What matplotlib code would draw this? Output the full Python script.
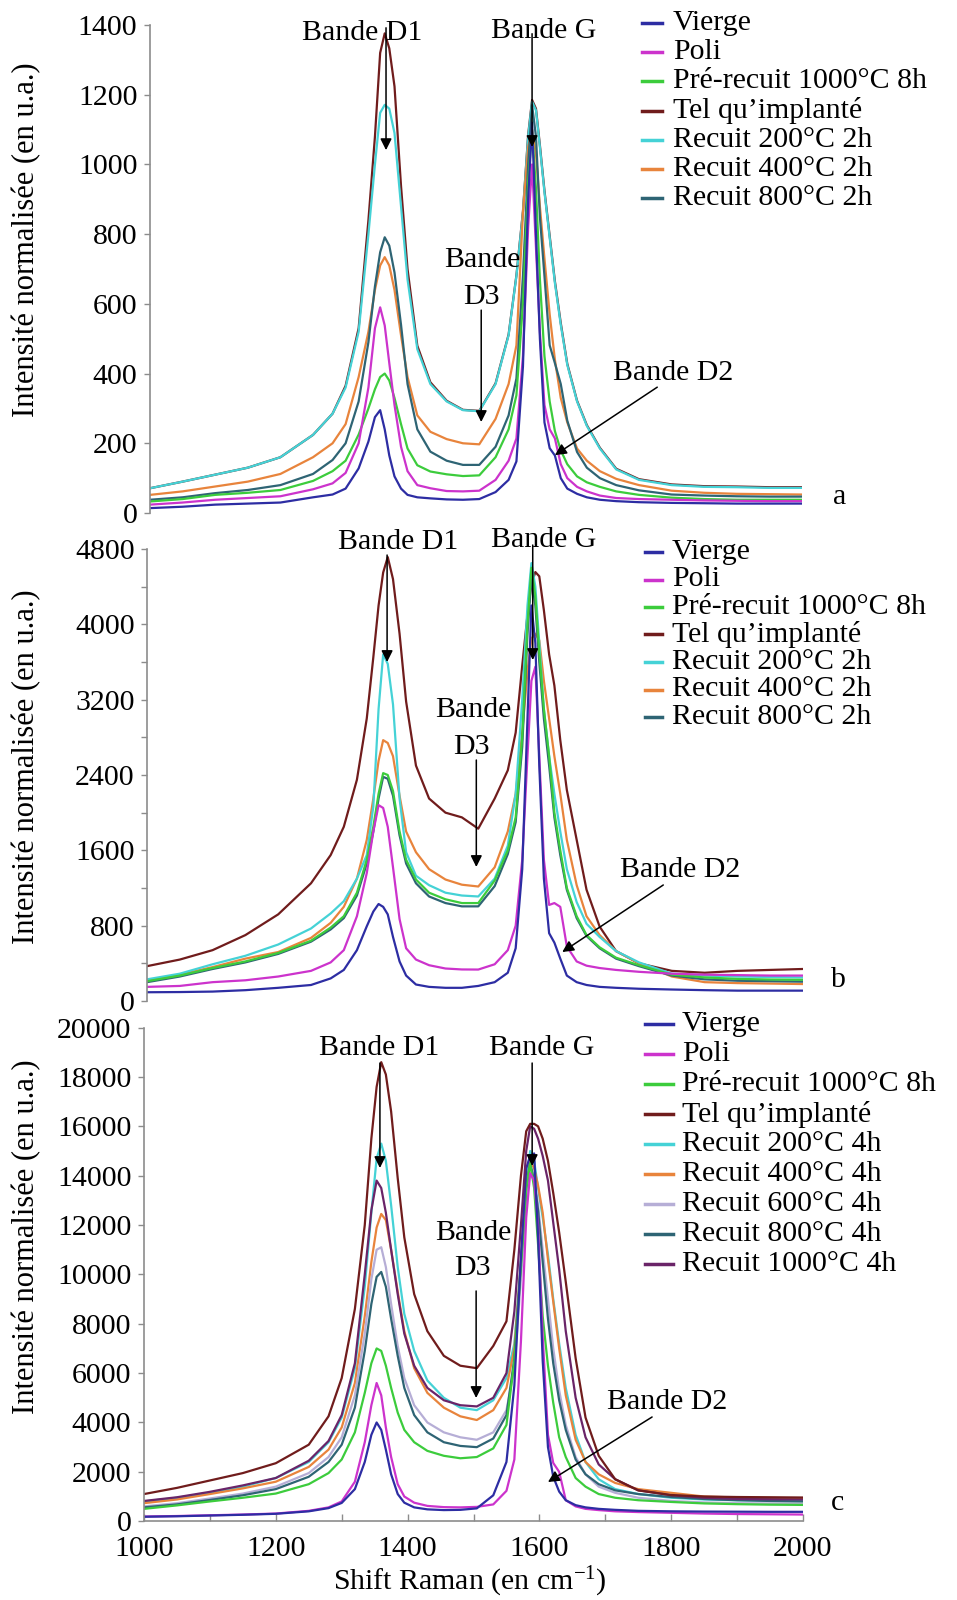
import matplotlib
matplotlib.use('Agg')
import matplotlib.pyplot as plt
from matplotlib.lines import Line2D

plt.rcParams['font.family'] = ['Liberation Serif', 'DejaVu Serif']
plt.rcParams['mathtext.fontset'] = 'custom'
plt.rcParams['mathtext.rm'] = 'Liberation Serif'
plt.rcParams['mathtext.it'] = 'Liberation Serif:italic'

W, H = 957, 1600

# Raman shift grid (cm-1)
shift = [1000, 1050, 1100, 1150, 1200, 1250, 1280, 1300, 1320, 1335,
         1345, 1353, 1360, 1367, 1375, 1385, 1395, 1410, 1430, 1455,
         1480, 1505, 1530, 1550, 1562, 1572, 1580, 1586, 1592, 1598,
         1605, 1613, 1621, 1630, 1640, 1655, 1670, 1690, 1715, 1750,
         1800, 1850, 1900, 1950, 2000]

# ---------------- panel a ----------------
a_vierge = [14, 18, 24, 27, 30, 45, 53, 70, 128, 205, 275, 295, 240, 165, 105,
            70, 52, 45, 42, 39, 38, 40, 60, 95, 148, 420, 900, 1120, 800, 500,
            260, 186, 165, 100, 70, 55, 45, 38, 34, 31, 29, 28, 27, 27, 27]
a_poli = [24, 30, 38, 43, 48, 68, 85, 115, 200, 360, 530, 590, 538, 430, 310,
          190, 120, 80, 71, 63, 62, 64, 95, 150, 214, 450, 820, 1000, 760, 520,
          310, 240, 214, 140, 100, 75, 62, 50, 43, 40, 38, 36, 35, 34, 34]
a_prerecuit = [33, 40, 52, 58, 66, 92, 120, 150, 225, 300, 355, 390, 400, 380, 330,
               255, 185, 137, 119, 111, 106, 108, 160, 240, 338, 600, 950, 1100, 930, 671,
               450, 320, 235, 180, 140, 105, 88, 75, 62, 52, 44, 40, 38, 38, 38]
a_tel = [71, 90, 110, 130, 160, 224, 285, 365, 530, 840, 1080, 1320, 1376, 1333, 1224,
         938, 700, 480, 375, 322, 296, 293, 372, 512, 682, 865, 1085, 1185, 1160, 1055,
         925, 795, 665, 545, 428, 322, 252, 187, 127, 97, 82, 77, 76, 74, 74]
a_r200 = [71, 90, 110, 130, 160, 224, 285, 360, 520, 800, 1000, 1148, 1171, 1160, 1090,
          880, 670, 470, 370, 320, 295, 292, 370, 510, 680, 862, 1080, 1180, 1155, 1050,
          920, 790, 660, 540, 425, 320, 250, 185, 125, 95, 80, 75, 74, 72, 72]
a_r400 = [52, 62, 76, 90, 112, 160, 200, 255, 390, 520, 640, 710, 734, 710, 640,
          510, 390, 280, 233, 212, 200, 197, 270, 370, 481, 862, 1050, 1100, 1030, 880,
          730, 570, 440, 330, 260, 185, 150, 120, 98, 80, 64, 58, 55, 54, 53]
a_r800 = [38, 45, 57, 66, 80, 112, 152, 200, 320, 490, 650, 748, 791, 767, 690,
          540, 370, 240, 176, 150, 138, 138, 190, 280, 386, 680, 1000, 1170, 1080, 850,
          680, 481, 430, 370, 265, 175, 130, 100, 80, 65, 53, 50, 48, 47, 47]

# ---------------- panel b ----------------
b_vierge = [93, 95, 100, 115, 140, 170, 240, 330, 540, 793, 950, 1030, 1000, 920, 680,
            420, 270, 175, 150, 140, 140, 160, 200, 300, 560, 1400, 3000, 4200, 3800, 2500,
            1300, 720, 620, 450, 270, 200, 170, 150, 140, 130, 122, 115, 110, 110, 110]
b_poli = [150, 160, 200, 220, 260, 320, 410, 540, 900, 1358, 1800, 2080, 2050, 1850, 1420,
          870, 560, 440, 380, 345, 335, 334, 390, 540, 800, 1500, 2600, 3400, 3550, 2600,
          1500, 1020, 1040, 1000, 580, 420, 375, 350, 330, 310, 290, 280, 275, 270, 270]
b_prerecuit = [210, 270, 350, 420, 510, 640, 780, 900, 1150, 1500, 1850, 2200, 2420, 2400, 2230,
               1800, 1500, 1290, 1150, 1080, 1040, 1040, 1280, 1600, 1950, 2800, 4000, 4600, 4300, 3700,
               3100, 2600, 2000, 1600, 1200, 900, 700, 570, 460, 380, 280, 250, 235, 228, 225]
b_tel = [370, 440, 540, 700, 920, 1250, 1550, 1850, 2350, 3000, 3650, 4200, 4550, 4714, 4480,
         3900, 3180, 2500, 2150, 2000, 1950, 1830, 2150, 2450, 2850, 3560, 4100, 4430, 4555, 4510,
         4150, 3680, 3350, 2770, 2241, 1711, 1182, 790, 530, 400, 320, 300, 320, 330, 340]
b_r200 = [230, 290, 390, 480, 600, 770, 930, 1060, 1300, 1550, 2064, 3100, 3680, 3580, 3150,
          2150, 1580, 1330, 1230, 1150, 1120, 1110, 1300, 1650, 2200, 3200, 4200, 4650, 4400, 3800,
          3100, 2600, 2200, 1800, 1400, 1050, 820, 680, 530, 410, 290, 270, 260, 255, 250]
b_r400 = [220, 280, 360, 450, 520, 670, 830, 1000, 1300, 1711, 2150, 2550, 2770, 2740, 2600,
          2180, 1800, 1580, 1400, 1290, 1235, 1216, 1420, 1800, 2200, 2850, 3500, 3850, 3900, 3830,
          3400, 3000, 2600, 2200, 1711, 1230, 900, 700, 530, 400, 260, 200, 190, 185, 180]
b_r800 = [200, 260, 340, 410, 500, 630, 760, 880, 1120, 1460, 1800, 2150, 2380, 2360, 2180,
          1760, 1460, 1250, 1110, 1040, 1005, 1005, 1220, 1560, 1900, 2700, 3900, 4500, 4200, 3600,
          3000, 2500, 1950, 1550, 1180, 880, 690, 560, 450, 370, 270, 230, 215, 210, 205]

# ---------------- panel c ----------------
c_vierge = [180, 200, 230, 260, 300, 400, 530, 740, 1300, 2400, 3500, 4000, 3700, 2900, 1900,
            1100, 750, 560, 480, 450, 460, 520, 1050, 2400, 5500, 10700, 14300, 14800, 14900, 11500,
            6500, 3000, 1800, 1200, 850, 650, 560, 500, 460, 420, 400, 390, 385, 380, 380]
c_poli = [190, 210, 240, 270, 310, 420, 560, 800, 1600, 3200, 4700, 5600, 5100, 3800, 2600,
          1500, 1000, 750, 620, 570, 560, 580, 680, 1230, 2500, 7300, 12300, 14100, 13800, 12000,
          7500, 3500, 2360, 2000, 850, 600, 500, 450, 400, 370, 340, 310, 290, 280, 270]
c_prerecuit = [500, 640, 800, 950, 1120, 1500, 1950, 2500, 3600, 5200, 6400, 7000, 6900, 6300, 5400,
               4400, 3700, 3200, 2850, 2650, 2550, 2600, 2950, 3900, 6500, 10300, 13500, 14500, 13500, 11200,
               8300, 6300, 4800, 3400, 2600, 1750, 1400, 1100, 950, 850, 780, 720, 690, 670, 660]
c_tel = [1100, 1350, 1650, 1950, 2350, 3100, 4250, 5800, 8600, 12000, 15500, 17600, 18600, 18100, 16600,
         13900, 11500, 9200, 7700, 6700, 6300, 6200, 7100, 8100, 11000, 14000, 15800, 16100, 16100, 16000,
         15500, 14600, 13300, 11700, 9700, 6600, 4200, 2650, 1700, 1250, 1060, 1000, 980, 970, 960]
c_r200 = [800, 950, 1150, 1400, 1750, 2400, 3200, 4200, 6200, 9500, 12500, 14700, 15300, 14600, 12800,
          10300, 8400, 6900, 5700, 5000, 4600, 4500, 4900, 5800, 7200, 10500, 13800, 15000, 14600, 13500,
          12300, 10800, 9000, 7200, 5400, 3500, 2400, 1700, 1300, 1100, 950, 880, 850, 840, 830]
c_r400 = [730, 880, 1100, 1330, 1600, 2200, 2900, 3800, 5600, 8300, 10500, 11900, 12450, 12200, 11000,
          9300, 7700, 6200, 5200, 4600, 4250, 4100, 4500, 5400, 7000, 10500, 13500, 14600, 14300, 13600,
          12500, 10600, 8900, 7000, 5100, 3300, 2400, 1900, 1550, 1300, 1150, 1000, 960, 940, 930]
c_r600 = [600, 730, 920, 1120, 1400, 1950, 2600, 3400, 5100, 7600, 9800, 11000, 11100, 10300, 8800,
          7100, 5800, 4700, 4000, 3600, 3400, 3300, 3600, 4500, 6200, 9800, 13000, 14400, 14000, 12800,
          11000, 9000, 7000, 5300, 3900, 2600, 1900, 1400, 1150, 950, 820, 760, 730, 720, 710]
c_r800 = [560, 680, 860, 1050, 1300, 1800, 2400, 3100, 4600, 6900, 8800, 9900, 10100, 9500, 8200,
          6700, 5400, 4300, 3600, 3200, 3050, 3000, 3350, 4300, 6600, 10500, 13500, 14500, 13800, 12600,
          10500, 8200, 6400, 4900, 3700, 2500, 1900, 1500, 1250, 1100, 980, 900, 850, 820, 800]
c_r1000 = [820, 970, 1190, 1450, 1750, 2450, 3250, 4300, 6400, 10000, 12600, 13800, 13500, 12500, 11000,
           9200, 7600, 6300, 5400, 4900, 4700, 4650, 5000, 6000, 8500, 12000, 15000, 16000, 15900, 15500,
           14800, 13800, 12100, 10200, 7700, 5000, 3400, 2300, 1700, 1250, 1050, 950, 900, 890, 880]

labels_ab = ['Vierge', 'Poli', 'Pré-recuit 1000°C 8h', 'Tel qu’implanté',
             'Recuit 200°C 2h', 'Recuit 400°C 2h', 'Recuit 800°C 2h']
labels_c = ['Vierge', 'Poli', 'Pré-recuit 1000°C 8h', 'Tel qu’implanté',
            'Recuit 200°C 4h', 'Recuit 400°C 4h', 'Recuit 600°C 4h',
            'Recuit 800°C 4h', 'Recuit 1000°C 4h']

col = {'vierge': '#2d2da3', 'poli': '#cc33cc', 'pre': '#3ccc3c', 'tel': '#701c1c',
       'r200': '#45d2d6', 'r400': '#e8843c', 'r600': '#b6aed6', 'r800': '#2e6474',
       'r1000': '#6a2468'}
colors_ab = [col['vierge'], col['poli'], col['pre'], col['tel'], col['r200'], col['r400'], col['r800']]
colors_c = [col['vierge'], col['poli'], col['pre'], col['tel'], col['r200'], col['r400'],
            col['r600'], col['r800'], col['r1000']]

FS = 21.5
LW = 1.6
fig = plt.figure(figsize=(W / 100, H / 100), dpi=100)


def add_axes(left, right, top, bottom):
    return fig.add_axes([left / W, 1 - bottom / H, (right - left) / W, (bottom - top) / H])


def style(ax, ymax, major, minor=None, xaxis=False):
    ax.set_xlim(1000, 2000)
    ax.set_ylim(0, ymax)
    ax.patch.set_alpha(0)
    for s in ['top', 'right']:
        ax.spines[s].set_visible(False)
    ax.spines['left'].set_color('#8c8c8c')
    ax.spines['left'].set_linewidth(1.2)
    ax.set_yticks(range(0, ymax + 1, major))
    if minor:
        ax.set_yticks(range(minor, ymax, major), minor=True)
    ax.tick_params(axis='y', which='both', direction='out', length=4, width=1,
                   color='#8c8c8c', labelsize=FS, pad=5)
    if xaxis:
        ax.spines['bottom'].set_color('#8c8c8c')
        ax.spines['bottom'].set_linewidth(1.2)
        ax.set_xticks(range(1000, 2001, 200))
        ax.set_xticks(range(1100, 2000, 200), minor=True)
        ax.tick_params(axis='x', which='both', direction='in', length=5, width=1,
                       color='#8c8c8c', labelsize=FS, pad=11)
    else:
        ax.spines['bottom'].set_visible(False)
        ax.set_xticks([])


def legend(labels, colors, y0, step, x0, x1, xt):
    for i, (lab, c) in enumerate(zip(labels, colors)):
        y = y0 + i * step
        fig.add_artist(Line2D([x0 / W, x1 / W], [1 - y / H, 1 - y / H], color=c, lw=2.5,
                              transform=fig.transFigure))
        fig.text(xt / W, 1 - y / H, lab, fontsize=FS, ha='left', va='center')


def arrow(ax, tip, start):
    ax.annotate('', xy=tip, xytext=start, annotation_clip=False,
                arrowprops=dict(arrowstyle='-|>', color='black', lw=1.1,
                                mutation_scale=17, shrinkA=0, shrinkB=0))


def txt(ax, x, y, s):
    ax.text(x, y, s, fontsize=FS, ha='center', va='center', clip_on=False)


# ---------------- panel a ----------------
axa = add_axes(150, 802, 25, 513)
series_a = [a_vierge, a_poli, a_prerecuit, a_tel, a_r200, a_r400, a_r800]
order_a = [3, 4, 5, 6, 2, 1, 0]
for i in order_a:
    axa.plot(shift, series_a[i], color=colors_ab[i], lw=LW)
style(axa, 1400, 200)
txt(axa, 1325, 1378, 'Bande D1')
arrow(axa, (1362, 1041), (1362, 1392))
txt(axa, 1604, 1384, 'Bande G')
arrow(axa, (1586, 1050), (1586, 1375))
txt(axa, 1509, 726, 'Bande')
txt(axa, 1508, 620, 'D3')
arrow(axa, (1508, 261), (1508, 582))
txt(axa, 1802, 402, 'Bande D2')
arrow(axa, (1621, 166), (1778, 361))
legend(labels_ab, colors_ab, 23, 29.2, 642, 662, 673)
fig.text(840 / W, 1 - 497 / H, 'a', fontsize=FS, ha='center', va='center')

# ---------------- panel b ----------------
axb = add_axes(147, 803, 549, 1001)
series_b = [b_vierge, b_poli, b_prerecuit, b_tel, b_r200, b_r400, b_r800]
order_b = [3, 5, 4, 6, 2, 1, 0]
for i in order_b:
    axb.plot(shift, series_b[i], color=colors_ab[i], lw=LW)
style(axb, 4800, 800, minor=400)
txt(axb, 1383, 4874, 'Bande D1')
arrow(axb, (1366, 3600), (1366, 4736))
txt(axb, 1604, 4895, 'Bande G')
arrow(axb, (1588, 3621), (1588, 4842))
txt(axb, 1497, 3090, 'Bande')
txt(axb, 1495, 2697, 'D3')
arrow(axb, (1502, 1423), (1502, 2559))
txt(axb, 1812, 1391, 'Bande D2')
arrow(axb, (1633, 520), (1787, 1232))
legend(labels_ab, colors_ab, 552, 27.5, 645, 662, 672)
fig.text(838 / W, 1 - 980 / H, 'b', fontsize=FS, ha='center', va='center')

# ---------------- panel c ----------------
axc = add_axes(144, 803, 1027.6, 1521.2)
series_c = [c_vierge, c_poli, c_prerecuit, c_tel, c_r200, c_r400, c_r600, c_r800, c_r1000]
order_c = [4, 5, 6, 7, 2, 1, 0, 8, 3]
for i in order_c:
    axc.plot(shift, series_c[i], color=colors_c[i], lw=LW)
style(axc, 20000, 2000, xaxis=True)
txt(axc, 1357, 19173, 'Bande D1')
arrow(axc, (1358, 14311), (1358, 18565))
txt(axc, 1604, 19173, 'Bande G')
arrow(axc, (1589, 14392), (1589, 18565))
txt(axc, 1499, 11678, 'Bande')
txt(axc, 1499, 10260, 'D3')
arrow(axc, (1504, 4992), (1504, 9328))
txt(axc, 1794, 4830, 'Bande D2')
arrow(axc, (1613, 1588), (1771, 4222))
legend(labels_c, colors_c, 1024, 30, 645, 673, 682)
fig.text(837 / W, 1 - 1503 / H, 'c', fontsize=FS, ha='center', va='center')

# axis labels
ylab = 'Intensité normalisée (en u.a.)'
for yc in (240, 767, 1237):
    fig.text(27 / W, 1 - yc / H, ylab, fontsize=22, rotation=90, ha='center', va='center')
fig.text(470 / W, 1 - 1582 / H, r'Shift Raman (en cm$^{\mathrm{-1}}$)', fontsize=FS,
         ha='center', va='center')

fig.savefig('out.png', dpi=100)
